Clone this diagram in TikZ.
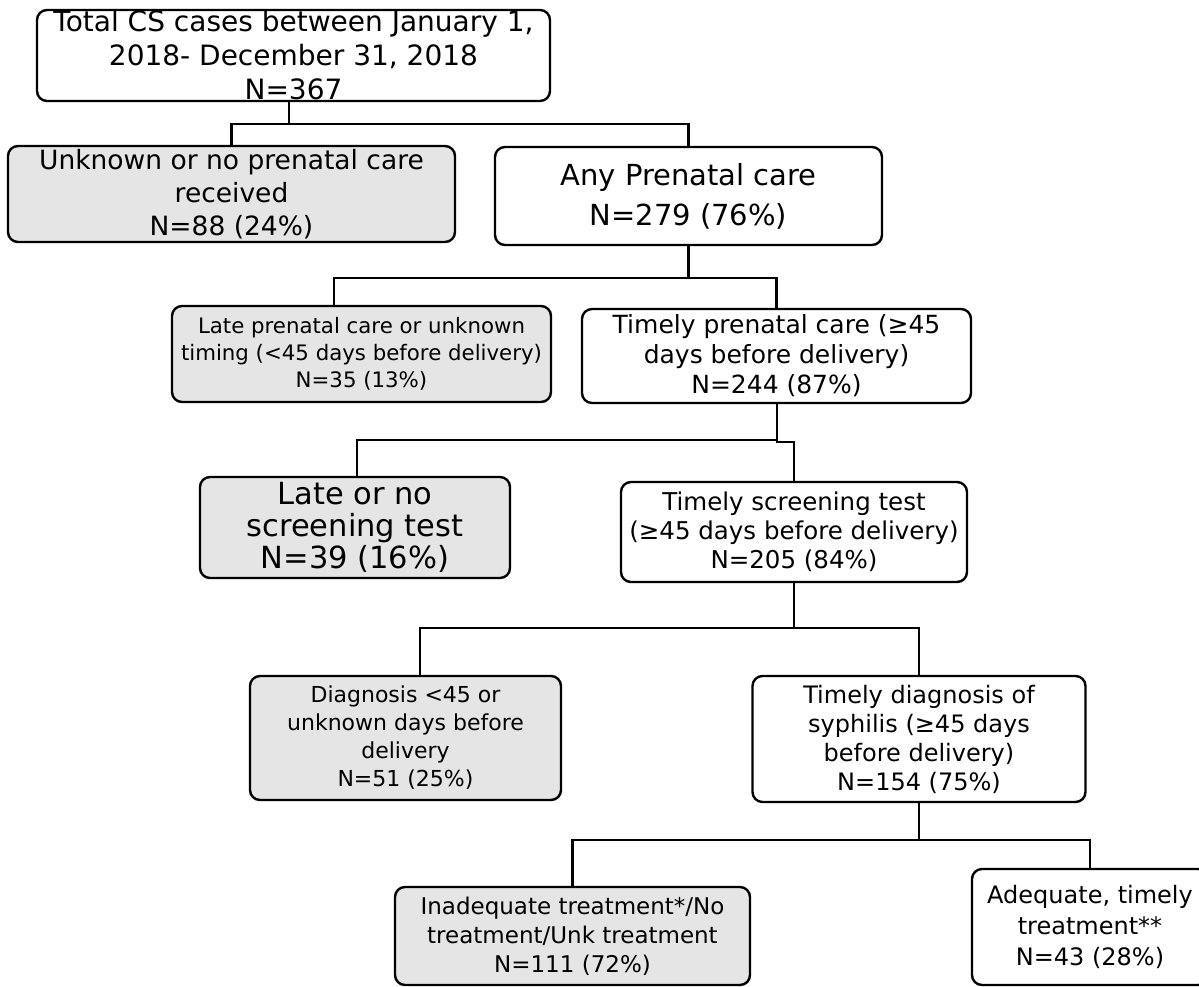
\documentclass[tikz,border=0pt]{standalone}
\usepackage{fontspec}
\setmainfont{DejaVu Sans}
\tikzset{
  box/.style={draw=black, line width=2.4pt, rounded corners=10pt, fill=white, inner sep=0pt, align=center},
  gbox/.style={box, fill=black!10},
  conn/.style={draw=black, line width=2.3pt, line cap=rect},
}
\newcommand{\fsz}[2]{\fontsize{#1}{#2}\selectfont}
\begin{document}
\begin{tikzpicture}[x=1pt,y=-1pt]
\useasboundingbox (0,0) rectangle (1199,986);
\begin{scope}
\clip (0,0) rectangle (1199,986);
\coordinate (j1) at (289,124);
\coordinate (j2) at (688.5,278);
\coordinate (j3) at (777,440);
\coordinate (j4) at (794,628);
\coordinate (j5) at (919,840);
\coordinate (x4) at (334,0);
\coordinate (x6) at (357,0);
\coordinate (x8) at (420,0);

\node[box, minimum width=513pt, minimum height=91pt, font={\fsz{28}{34}}] (b1) at (293.5,55.5)
  {Total CS cases between January 1,\\2018- December 31, 2018\\N=367};
\node[gbox, minimum width=447pt, minimum height=96pt, font={\fsz{26.5}{33}}] (b2) at (231.5,194)
  {Unknown or no prenatal care\\received\\N=88 (24\%)};
\node[box, minimum width=387pt, minimum height=98pt, font={\fsz{29}{40}}] (b3) at (688.5,196)
  {Any Prenatal care\\N=279 (76\%)};
\node[gbox, minimum width=379pt, minimum height=96pt, font={\fsz{21.3}{27}}] (b4) at (361.5,354)
  {Late prenatal care or unknown\\timing (<45 days before delivery)\\N=35 (13\%)};
\node[box, minimum width=389pt, minimum height=94pt, font={\fsz{25}{30}}] (b5) at (776.5,356)
  {Timely prenatal care (≥45\\days before delivery)\\N=244 (87\%)};
\node[gbox, minimum width=310pt, minimum height=101pt, font={\fsz{30.5}{32}}] (b6) at (355,527.5)
  {Late or no\\screening test\\N=39 (16\%)};
\node[box, minimum width=346pt, minimum height=100pt, font={\fsz{24.5}{29}}] (b7) at (794,532)
  {Timely screening test\\(≥45 days before delivery)\\N=205 (84\%)};
\node[gbox, minimum width=311pt, minimum height=124pt, font={\fsz{22}{28}}] (b8) at (405.5,738)
  {Diagnosis <45 or\\unknown days before\\delivery\\N=51 (25\%)};
\node[box, minimum width=333pt, minimum height=126pt, font={\fsz{24}{29}}] (b9) at (919,739)
  {Timely diagnosis of\\syphilis (≥45 days\\before delivery)\\N=154 (75\%)};
\node[gbox, minimum width=355pt, minimum height=98pt, font={\fsz{23}{29}}] (b10) at (572.5,936)
  {Inadequate treatment*/No\\treatment/Unk treatment\\N=111 (72\%)};
\node[box, minimum width=236pt, minimum height=116pt, font={\fsz{24}{31}}] (b11) at (1090,927)
  {Adequate, timely\\treatment**\\N=43 (28\%)};

\draw[conn] (b1.south -| j1) -- (j1);
\draw[conn] (j1) -| (b2.north);
\draw[conn] (j1) -| (b3.north);
\draw[conn] (b3.south) -- (j2);
\draw[conn] (j2) -| (x4 |- b4.north);
\draw[conn] (j2) -| (b5.north);
\draw[conn] (b5.south -| j3) -- (j3);
\draw[conn] (j3) -| (x6 |- b6.north);
\draw[conn] (j3) -- ++(0,2) -| (b7.north);
\draw[conn] (b7.south) -- (j4);
\draw[conn] (j4) -| (x8 |- b8.north);
\draw[conn] (j4) -| (b9.north);
\draw[conn] (b9.south) -- (j5);
\draw[conn] (j5) -| (b10.north);
\draw[conn] (j5) -| (b11.north);
\end{scope}
\end{tikzpicture}
\end{document}
